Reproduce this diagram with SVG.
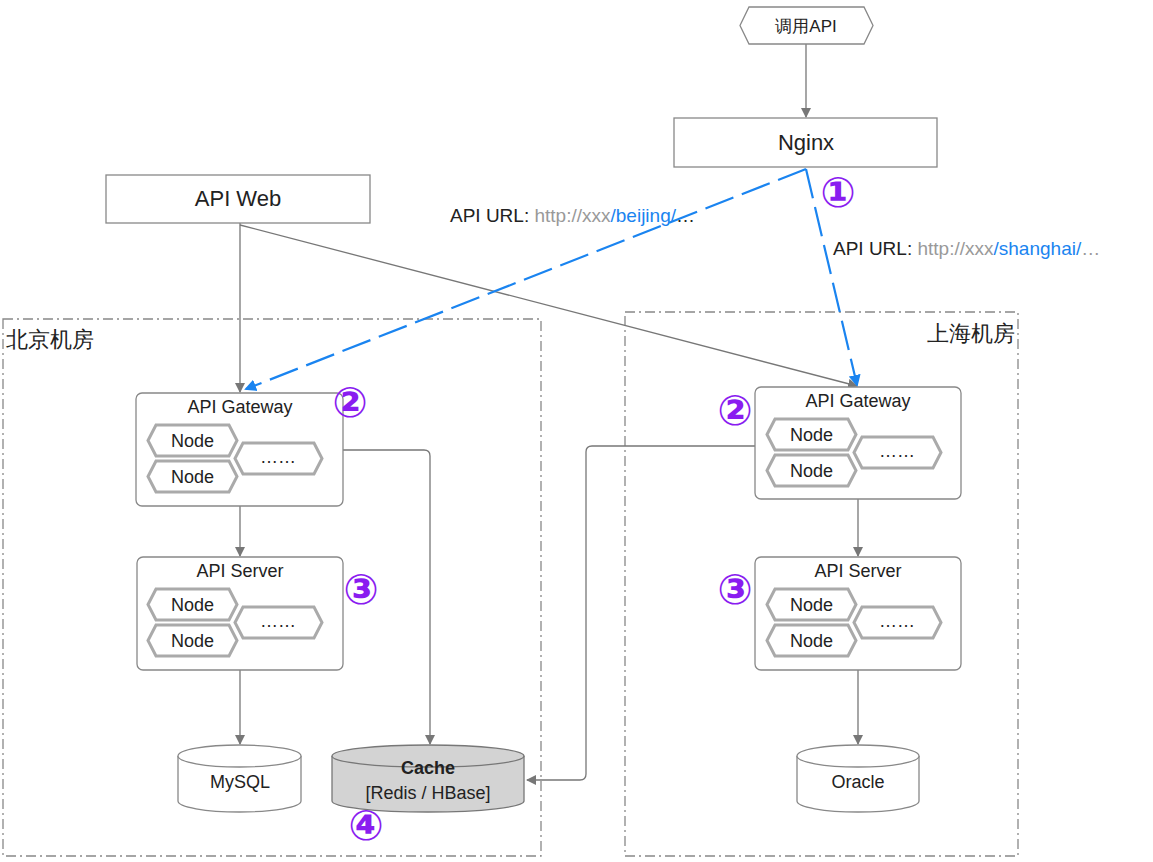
<svg xmlns="http://www.w3.org/2000/svg" width="1153" height="862" viewBox="0 0 1153 862">
<style>
text{font-family:"Liberation Sans",Arial,sans-serif;fill:#222}
.box{fill:#fff;stroke:#888;stroke-width:1.3}
.hex{fill:#fff;stroke:#aaa;stroke-width:3}
.region{fill:none;stroke:#888;stroke-width:1.3;stroke-dasharray:10 4 2 4}
.ln{fill:none;stroke:#777;stroke-width:1.3}
.bl{fill:none;stroke:#1a84f0;stroke-width:2.2;stroke-dasharray:30 9}
.num{fill:#8a1cf0;font-size:42px;font-weight:bold;font-family:"DejaVu Sans",sans-serif}
</style>
<defs>
<marker id="ag" markerWidth="10" markerHeight="10" refX="9" refY="5" orient="auto" markerUnits="userSpaceOnUse"><path d="M0,0L10,5L0,10z" fill="#777"/></marker>
<marker id="ab" markerWidth="12" markerHeight="12" refX="10" refY="6" orient="auto" markerUnits="userSpaceOnUse"><path d="M0,0L12,6L0,12z" fill="#1a84f0"/></marker>
<g id="nodes">
<path class="hex" d="M0,15.5L8,0H81L89,15.5L81,31H8z"/>
<text x="44.5" y="22" font-size="18" text-anchor="middle">Node</text>
<path class="hex" transform="translate(0,36)" d="M0,15.5L8,0H81L89,15.5L81,31H8z"/>
<text x="44.5" y="58" font-size="18" text-anchor="middle">Node</text>
<path class="hex" transform="translate(87,18)" d="M0,15.5L8,0H79L87,15.5L79,31H8z"/>
<text x="130" y="38" font-size="18" text-anchor="middle">……</text>
</g>
</defs>
<rect class="region" x="3" y="319" width="538" height="537"/>
<text x="6" y="347" font-size="22" font-family="'Noto Sans CJK SC',sans-serif">北京机房</text>
<rect class="region" x="625" y="312" width="393" height="544"/>
<text x="1015" y="341" font-size="22" text-anchor="end" font-family="'Noto Sans CJK SC',sans-serif">上海机房</text>

<g id="connectors">
<line class="ln" x1="806" y1="44" x2="806" y2="117" marker-end="url(#ag)"/>
<line class="ln" x1="240" y1="223" x2="240" y2="392" marker-end="url(#ag)"/>
<line class="ln" x1="240" y1="225" x2="857" y2="386" marker-end="url(#ag)"/>
<line class="bl" x1="806" y1="169" x2="246" y2="389" marker-end="url(#ab)"/>
<line class="bl" x1="806" y1="169" x2="857" y2="385" marker-end="url(#ab)"/>
<path class="ln" d="M343,450H424Q430,450 430,456V744" marker-end="url(#ag)"/>
<path class="ln" d="M755,446H592Q586,446 586,452V774Q586,780 580,780H527" marker-end="url(#ag)"/>
<line class="ln" x1="240" y1="506" x2="240" y2="556" marker-end="url(#ag)"/>
<line class="ln" x1="858" y1="499" x2="858" y2="556" marker-end="url(#ag)"/>
<line class="ln" x1="240" y1="670" x2="240" y2="744" marker-end="url(#ag)"/>
<line class="ln" x1="858" y1="670" x2="858" y2="744" marker-end="url(#ag)"/>
</g>

<g id="callapi"><path class="box" d="M740,25.5L749,7H864L873,25.5L864,44H749z"/>
<text x="806" y="32" font-size="17" text-anchor="middle" font-family="'Liberation Sans','Noto Sans CJK SC',sans-serif">调用API</text></g>
<g id="nginx"><rect class="box" x="674" y="118" width="263" height="49"/>
<text x="806" y="150" font-size="22" text-anchor="middle">Nginx</text></g>
<g id="apiweb"><rect class="box" x="106" y="175" width="264" height="48"/>
<text x="238" y="206" font-size="22" text-anchor="middle">API Web</text></g>

<text x="450" y="222" font-size="19">API URL: <tspan fill="#999">http://xxx</tspan><tspan fill="#1a84f0">/beijing/</tspan>…</text>
<text x="833" y="255" font-size="19">API URL: <tspan fill="#999">http://xxx</tspan><tspan fill="#1a84f0">/shanghai/</tspan><tspan fill="#999">…</tspan></text>

<g id="gw-bj"><rect class="box" x="136" y="393" width="207" height="113" rx="6"/>
<text x="240" y="413" font-size="18" text-anchor="middle">API Gateway</text>
<use href="#nodes" x="148" y="425"/></g>
<g id="srv-bj"><rect class="box" x="137" y="557" width="206" height="113" rx="6"/>
<text x="240" y="577" font-size="18" text-anchor="middle">API Server</text>
<use href="#nodes" x="148" y="589"/></g>
<g id="gw-sh"><rect class="box" x="755" y="387" width="206" height="112" rx="6"/>
<text x="858" y="407" font-size="18" text-anchor="middle">API Gateway</text>
<use href="#nodes" x="767" y="419"/></g>
<g id="srv-sh"><rect class="box" x="755" y="557" width="206" height="113" rx="6"/>
<text x="858" y="577" font-size="18" text-anchor="middle">API Server</text>
<use href="#nodes" x="767" y="589"/></g>

<g id="mysql"><path class="box" d="M178,756V801A61.5,11 0 0 0 301,801V756"/><ellipse class="box" cx="239.5" cy="756" rx="61.5" ry="11"/>
<text x="240" y="788" font-size="18" text-anchor="middle">MySQL</text></g>
<g id="cache"><path d="M332,756V801A96,11 0 0 0 524,801V756" fill="#d3d3d3" stroke="#777" stroke-width="1.3"/><ellipse cx="428" cy="756" rx="96" ry="11" fill="#d3d3d3" stroke="#777" stroke-width="1.3"/>
<text x="428" y="774" font-size="18" font-weight="bold" text-anchor="middle">Cache</text>
<text x="428" y="799" font-size="18" text-anchor="middle" fill="#333">[Redis / HBase]</text></g>
<g id="oracle"><path class="box" d="M797,756V801A61,11 0 0 0 919,801V756"/><ellipse class="box" cx="858" cy="756" rx="61" ry="11"/>
<text x="858" y="788" font-size="18" text-anchor="middle">Oracle</text></g>

<text class="num" x="838" y="207" text-anchor="middle">①</text>
<text class="num" x="350" y="417" text-anchor="middle">②</text>
<text class="num" x="735" y="425" text-anchor="middle">②</text>
<text class="num" x="361" y="604" text-anchor="middle">③</text>
<text class="num" x="735" y="604" text-anchor="middle">③</text>
<text class="num" x="366" y="840" text-anchor="middle">④</text>
</svg>
